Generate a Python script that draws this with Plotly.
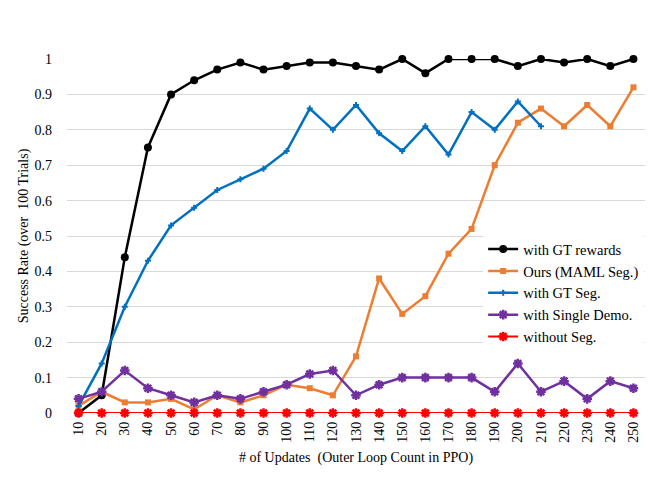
import plotly.graph_objects as go

# Update counts (outer loop count in PPO)
updates = [str(v) for v in range(10, 260, 10)]

gt_rewards = [0.0, 0.05, 0.44, 0.75, 0.90, 0.94, 0.97, 0.99, 0.97, 0.98, 0.99, 0.99, 0.98,
              0.97, 1.0, 0.96, 1.0, 1.0, 1.0, 0.98, 1.0, 0.99, 1.0, 0.98, 1.0]
ours_maml = [0.02, 0.06, 0.03, 0.03, 0.04, 0.01, 0.05, 0.03, 0.05, 0.08, 0.07, 0.05, 0.16,
             0.38, 0.28, 0.33, 0.45, 0.52, 0.70, 0.82, 0.86, 0.81, 0.87, 0.81, 0.92]
gt_seg = [0.02, 0.14, 0.30, 0.43, 0.53, 0.58, 0.63, 0.66, 0.69, 0.74, 0.86, 0.80, 0.87,
          0.79, 0.74, 0.81, 0.73, 0.85, 0.80, 0.88, 0.81]
single_demo = [0.04, 0.06, 0.12, 0.07, 0.05, 0.03, 0.05, 0.04, 0.06, 0.08, 0.11, 0.12, 0.05,
               0.08, 0.10, 0.10, 0.10, 0.10, 0.06, 0.14, 0.06, 0.09, 0.04, 0.09, 0.07]
no_seg = [0.0] * 25

y_ticks = [round(i * 0.1, 1) for i in range(11)]
y_tick_text = ["0"] + [f"{v:.1f}" for v in y_ticks[1:-1]] + ["1"]

SERIES = [
    ("with GT rewards", gt_rewards, "#000000", "circle", 8, 2.5),
    ("Ours (MAML Seg.)", ours_maml, "#ED7D31", "square", 6, 2.5),
    ("with GT Seg.", gt_seg, "#0070C0", "cross", 5, 2.5),
    ("with Single Demo.", single_demo, "#7030A0", "asterisk-open", 8, 2.5),
    ("without Seg.", no_seg, "#FF0000", "asterisk-open", 8, 2),
]

FONT = "Liberation Serif, Times New Roman, serif"

fig = go.Figure()
for name, vals, color, symbol, size, width in SERIES:
    marker = dict(symbol=symbol, size=size, color=color)
    if symbol.endswith("open"):
        marker["line"] = dict(color=color, width=2.5)
    fig.add_trace(
        go.Scatter(
            x=updates[: len(vals)],
            y=vals,
            name=name,
            mode="lines+markers",
            line=dict(color=color, width=width),
            marker=marker,
            cliponaxis=False,
        )
    )

fig.update_xaxes(
    type="category",
    range=[-0.5, len(updates) - 0.5],
    tickangle=-90,
    automargin=False,
    showgrid=False,
    zeroline=False,
    showline=False,
    ticks="",
    ticklabelstandoff=5,
    tickfont=dict(size=14, color="#000"),
    title=dict(text="# of Updates\u00a0 (Outer Loop Count in PPO)", font=dict(size=14, color="#000"),
               standoff=10),
)
fig.update_yaxes(
    range=[0, 1],
    automargin=False,
    tickvals=y_ticks,
    ticktext=y_tick_text,
    showgrid=True,
    gridcolor="#d9d9d9",
    gridwidth=1.3,
    zeroline=False,
    ticks="",
    ticklabelstandoff=14,
    tickfont=dict(size=14, color="#000"),
    title=dict(text="Success Rate (over\u00a0 100 Trials)", font=dict(size=14, color="#000"),
               standoff=2),
)

fig.update_layout(
    width=664,
    height=478,
    plot_bgcolor="white",
    paper_bgcolor="white",
    font=dict(family=FONT, color="#000"),
    margin=dict(t=51, l=59, b=73, r=27, autoexpand=False),
    legend=dict(
        x=0.72,
        y=0.508,
        xanchor="left",
        yanchor="top",
        bgcolor="white",
        font=dict(size=14.5, color="#000"),
        itemwidth=30,
        tracegroupgap=0,
    ),
)

fig.write_html("out.html")
